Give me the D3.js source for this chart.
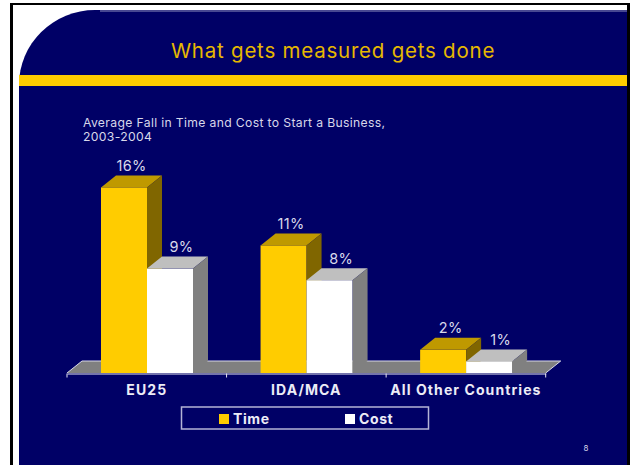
<!DOCTYPE html>
<html>
<head>
<meta charset="utf-8">
<script src="https://cdnjs.cloudflare.com/ajax/libs/d3/7.8.5/d3.min.js"></script>
<style>
  html, body { margin: 0; padding: 0; background: #fff; overflow: hidden; }
  svg { display: block; }
  text { font-family: Inter, "Liberation Sans", Arial, sans-serif; }
</style>
</head>
<body>
<div id="chart"></div>
<script>
var categories = ["EU25", "IDA/MCA", "All Other Countries"];
var seriesNames = ["Time", "Cost"];
var timeValues = [16, 11, 2];
var costValues = [9, 8, 1];
var titleText = "What gets measured gets done";
var subtitleLines = ["Average Fall in Time and Cost to Start a Business,", "2003-2004"];
var pageNumber = "8";

var width = 632, height = 465;
var navy = "#000066", gold = "#ffcc00", pale = "#d8d8ea";
var depthX = 15, depthY = 12;

var faces = {
  Time: {front: gold, top: "#bf9900", side: "#806600", label: 0},
  Cost: {front: "#ffffff", top: "#bfbfbf", side: "#808080", label: 4}
};

var svg = d3.select("#chart").append("svg")
    .attr("width", width)
    .attr("height", height);

// slide background
svg.append("rect").attr("width", width).attr("height", height).attr("fill", "#fff");
svg.append("path")
    .attr("fill", navy)
    .attr("d", "M19,465 L19,85 A76,75 0 0 1 95,10 L627,10 L627,465 Z");
svg.append("line").attr("x1", 100).attr("x2", 627).attr("y1", 11).attr("y2", 11)
    .attr("stroke", "#8f8fbd").attr("stroke-width", 1);
svg.append("rect").attr("x", 19).attr("y", 75).attr("width", 608).attr("height", 11).attr("fill", gold);

// frame
svg.append("rect").attr("x", 10).attr("y", 3).attr("width", 620).attr("height", 2).attr("fill", "#000");
svg.append("rect").attr("x", 10).attr("y", 3).attr("width", 3).attr("height", 462).attr("fill", "#000");
svg.append("rect").attr("x", 627).attr("y", 3).attr("width", 3).attr("height", 462).attr("fill", "#000");

svg.append("text")
    .attr("x", 333).attr("y", 58)
    .attr("text-anchor", "middle")
    .attr("font-size", 20.5)
    .attr("letter-spacing", 0.77)
    .attr("fill", "#e6b800")
    .text(titleText);

svg.append("g").selectAll("text")
    .data(subtitleLines)
  .enter().append("text")
    .attr("x", 83)
    .attr("y", function(d, i) { return 127 + i * 14; })
    .attr("font-size", 12.2)
    .attr("letter-spacing", 0.34)
    .attr("fill", pale)
    .text(function(d) { return d; });

// scales
var x = d3.scaleBand().domain(categories).range([67, 545.7]);
var xSeries = d3.scaleBand().domain(seriesNames).range([34, 126]);
var y = d3.scaleLinear().domain([0, 16]).range([373, 187.4]);
var baseY = y(0);

// floor
var floor = svg.append("g");
floor.append("path")
    .attr("fill", "#808080")
    .attr("d", d3.line()([
      [x.range()[0], baseY], [x.range()[1], baseY],
      [x.range()[1] + depthX, baseY - depthY], [x.range()[0] + depthX, baseY - depthY]
    ]) + "Z");
floor.append("path")
    .attr("fill", "none")
    .attr("stroke", "#d8d8e8")
    .attr("stroke-width", 1)
    .attr("d", d3.line()([
      [x.range()[0], baseY], [x.range()[0] + depthX, baseY - depthY],
      [x.range()[1] + depthX, baseY - depthY], [x.range()[1], baseY]
    ]));

// bars, left to right so each one covers the side of its neighbour
var rows = [];
categories.forEach(function(c, i) {
  rows.push({category: c, series: "Time", value: timeValues[i]});
  rows.push({category: c, series: "Cost", value: costValues[i]});
});

function barLeft(d) { return x(d.category) + xSeries(d.series); }

var bars = svg.append("g").selectAll("g")
    .data(rows)
  .enter().append("g");

bars.append("rect")
    .attr("x", barLeft)
    .attr("y", function(d) { return y(d.value); })
    .attr("width", xSeries.bandwidth())
    .attr("height", function(d) { return baseY - y(d.value); })
    .attr("fill", function(d) { return faces[d.series].front; });

bars.append("path")
    .attr("fill", function(d) { return faces[d.series].top; })
    .attr("d", function(d) {
      var l = barLeft(d), r = l + xSeries.bandwidth(), t = y(d.value);
      return d3.line()([[l, t], [r, t], [r + depthX, t - depthY], [l + depthX, t - depthY]]) + "Z";
    });

bars.append("path")
    .attr("fill", function(d) { return faces[d.series].side; })
    .attr("d", function(d) {
      var r = barLeft(d) + xSeries.bandwidth(), t = y(d.value);
      return d3.line()([[r, t], [r + depthX, t - depthY], [r + depthX, baseY - depthY], [r, baseY]]) + "Z";
    });

bars.append("text")
    .attr("x", function(d) { return barLeft(d) + xSeries.bandwidth() / 2 + depthX / 2 + faces[d.series].label; })
    .attr("y", function(d) { return y(d.value) - depthY - 4.5; })
    .attr("text-anchor", "middle")
    .attr("font-size", 14.5)
    .attr("letter-spacing", 0.3)
    .attr("fill", pale)
    .text(function(d) { return d.value + "%"; });

// category axis
var axis = svg.append("g")
    .attr("transform", "translate(0," + (baseY + 0.5) + ")")
    .call(d3.axisBottom(x).tickSize(0).tickPadding(9));
axis.select(".domain").attr("stroke", "#e8e8f4").attr("stroke-width", 1);
axis.selectAll(".tick text")
    .attr("dy", ".9em")
    .attr("font-size", 14)
    .attr("font-weight", "bold")
    .attr("letter-spacing", 1.08)
    .attr("fill", "#ececf6")
    .style("font-family", 'Inter, "Liberation Sans", Arial, sans-serif');

var edges = categories.map(function(c) { return x(c); }).concat(x.range()[1]);
axis.selectAll(".edge")
    .data(edges)
  .enter().append("line")
    .attr("class", "edge")
    .attr("x1", function(d) { return d; })
    .attr("x2", function(d) { return d; })
    .attr("y1", 0)
    .attr("y2", 4)
    .attr("stroke", "#e8e8f4");

// legend
var legend = svg.append("g");
legend.append("rect")
    .attr("x", 181.5).attr("y", 407)
    .attr("width", 247).attr("height", 22)
    .attr("fill", "none")
    .attr("stroke", "#b4b4d6")
    .attr("stroke-width", 1.5);

var legendX = d3.scalePoint().domain(seriesNames).range([219, 345]);
var items = legend.selectAll(".item")
    .data(seriesNames)
  .enter().append("g")
    .attr("class", "item")
    .attr("transform", function(d) { return "translate(" + legendX(d) + ",414)"; });
items.append("rect")
    .attr("width", 10).attr("height", 10)
    .attr("fill", function(d) { return faces[d].front; });
items.append("text")
    .attr("x", 14).attr("y", 10)
    .attr("font-size", 14)
    .attr("font-weight", "bold")
    .attr("letter-spacing", 0.6)
    .attr("fill", "#ececf6")
    .text(function(d) { return d; });

svg.append("text")
    .attr("x", 586).attr("y", 451)
    .attr("text-anchor", "middle")
    .attr("font-size", 8)
    .attr("fill", pale)
    .text(pageNumber);
</script>
</body>
</html>
